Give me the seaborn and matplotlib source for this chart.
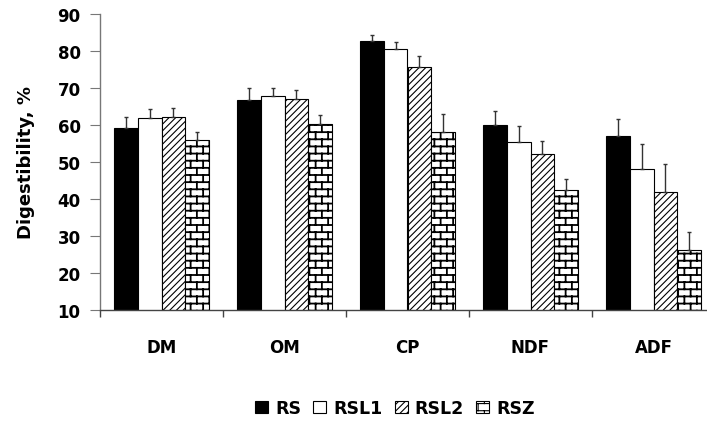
import numpy as np
import pandas as pd
import matplotlib
matplotlib.use("Agg")
import matplotlib.pyplot as plt
import seaborn as sns
from matplotlib import hatch as mhatch
from matplotlib.path import Path
from matplotlib.patches import Patch

# ---------------- data ----------------
categories = ["DM", "OM", "CP", "NDF", "ADF"]
treatments = ["RS", "RSL1", "RSL2", "RSZ"]

rs_mean = [59.2, 66.8, 82.6, 60.0, 57.0]
rsl1_mean = [61.8, 67.9, 80.6, 55.5, 48.0]
rsl2_mean = [62.2, 67.0, 75.7, 52.1, 41.9]
rsz_mean = [55.9, 60.4, 58.0, 42.3, 26.1]

rs_err = [3.0, 3.3, 1.8, 3.8, 4.5]
rsl1_err = [2.4, 2.1, 1.8, 4.1, 7.0]
rsl2_err = [2.3, 2.4, 3.0, 3.7, 7.5]
rsz_err = [2.3, 2.2, 5.1, 3.1, 5.1]

means = [rs_mean, rsl1_mean, rsl2_mean, rsz_mean]
errs = [rs_err, rsl1_err, rsl2_err, rsz_err]

df = pd.DataFrame({
    "category": categories * len(treatments),
    "treatment": [t for t in treatments for _ in categories],
    "value": [v for m in means for v in m],
})


# ---------------- custom brick hatch ----------------
class BrickHatch(mhatch.HatchPatternBase):
    def __init__(self, hatch, density):
        n = hatch.count('+')
        self.rows = 14 * n
        self.cols = 8 * n
        self.num_vertices = (self.rows * 2 + (self.rows + 1) * self.cols * 2) if n else 0

    def set_vertices_and_codes(self, vertices, codes):
        verts = []
        R, C = self.rows, self.cols
        for i in range(R):
            y = (i + 0.5) / R
            verts += [(0.0, y), (1.0, y)]
        for i in range(-1, R):
            y0 = (i + 0.5) / R
            y1 = (i + 1.5) / R
            off = 0.5 * (i % 2)
            for j in range(C):
                x = (j + 0.25 + off) / C
                verts += [(x, y0), (x, y1)]
        vertices[:] = np.array(verts)
        codes[0::2] = Path.MOVETO
        codes[1::2] = Path.LINETO


mhatch._hatch_types[:] = [h for h in mhatch._hatch_types
                          if h not in (mhatch.HorizontalHatch, mhatch.VerticalHatch)] + [BrickHatch]


def set_hatch_lw(p, lw):
    if hasattr(p, "set_hatch_linewidth"):
        p.set_hatch_linewidth(lw)
    else:
        orig = p.draw

        def draw(renderer, orig=orig, lw=lw):
            with plt.rc_context({"hatch.linewidth": lw}):
                orig(renderer)
        p.draw = draw


# ---------------- style ----------------
sns.set_theme(style="white")
plt.rcParams["font.family"] = ["DejaVu Sans"]
plt.rcParams["font.weight"] = "bold"
plt.rcParams["hatch.linewidth"] = 0.8
plt.rcParams["text.color"] = "black"
plt.rcParams["axes.labelcolor"] = "black"
plt.rcParams["xtick.color"] = "black"
plt.rcParams["ytick.color"] = "black"

W, H = 707, 427
fig = plt.figure(figsize=(W / 100, H / 100), dpi=100)
ax = fig.add_axes([100 / W, 1 - 311 / H, 615 / W, 296 / H])

sns.barplot(data=df, x="category", y="value", hue="treatment",
            order=categories, hue_order=treatments,
            palette=["black", "white", "white", "white"], saturation=1,
            width=0.78, errorbar=None, edgecolor="black", linewidth=0.8,
            legend=False, ax=ax)

hatches = ["", "", "/////", "+"]
hatch_lws = [0.8, 0.8, 0.8, 1.3]
for cont, h, hlw, e in zip(ax.containers, hatches, hatch_lws, errs):
    xs, ys = [], []
    for p in cont:
        p.set_hatch(h)
        set_hatch_lw(p, hlw)
        xs.append(p.get_x() + p.get_width() / 2)
        ys.append(p.get_y() + p.get_height())
    ax.errorbar(xs, ys, yerr=[np.zeros(len(e)), e], fmt="none",
                ecolor="#333333", elinewidth=1.0, capsize=1.5, capthick=1.0,
                zorder=1)

ax.set_ylim(10, 90)
ax.set_yticks(np.arange(10, 91, 10))
ax.set_xlim(-0.5, len(categories) - 0.5)
ax.set_xlabel("")
ax.set_ylabel("Digestibility, %", fontsize=13, fontweight="bold", labelpad=16,
              color="black")

ax.set_xticks(range(len(categories)))
ax.set_xticklabels(categories, fontsize=12, fontweight="bold", color="black")
ax.set_xticks(np.arange(-0.5, len(categories) - 0.5, 1), minor=True)
ax.tick_params(axis="x", which="major", length=0, pad=20, labelcolor="black")
ax.tick_params(axis="x", which="minor", length=5, width=1.0, color="#444444",
               direction="out", bottom=True)
ax.tick_params(axis="y", length=7, width=0.8, color="#777777", pad=7,
               labelsize=12, left=True, direction="out", labelcolor="black")
for lab in ax.get_yticklabels():
    lab.set_fontweight("bold")

sns.despine(ax=ax, top=True, right=True)
ax.spines["left"].set_color("#777777")
ax.spines["bottom"].set_color("#444444")
ax.spines["left"].set_linewidth(1.0)
ax.spines["bottom"].set_linewidth(1.0)

handles = []
for color, h in zip(["black", "white", "white", "white"], hatches):
    hp = Patch(facecolor=color, edgecolor="black", hatch=h, linewidth=0.8)
    handles.append(hp)
leg = fig.legend(handles, treatments, loc="center",
                 bbox_to_anchor=(395 / W, 1 - 409 / H), ncol=4, frameon=False,
                 handlelength=0.75, handleheight=0.75, handletextpad=0.4,
                 columnspacing=0.7, prop={"weight": "bold", "size": 12.5})
for t in leg.get_texts():
    t.set_color("black")

fig.savefig("out.png", dpi=100)
